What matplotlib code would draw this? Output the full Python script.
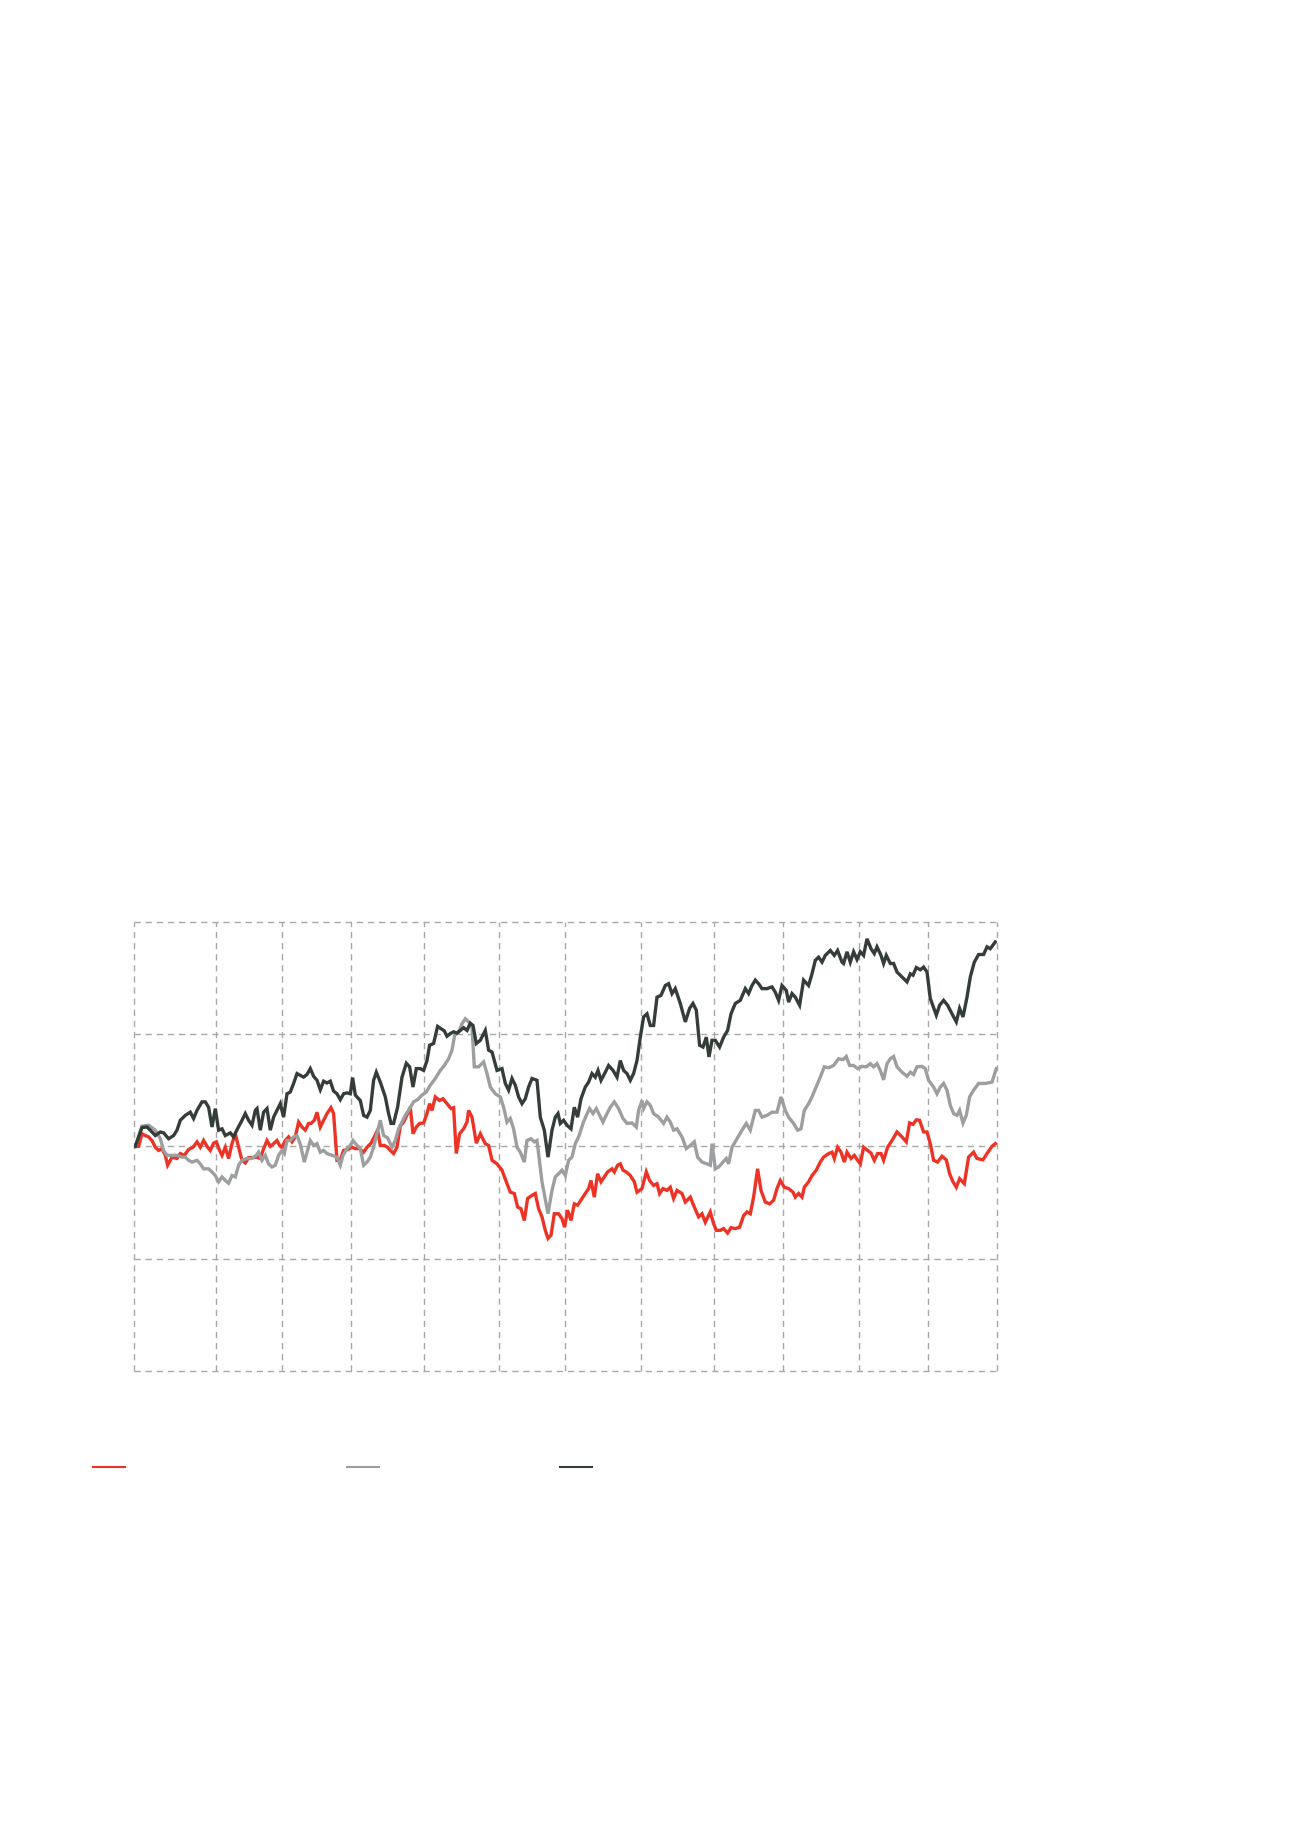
import matplotlib
matplotlib.use("Agg")
import matplotlib.pyplot as plt
from matplotlib.lines import Line2D

# ---- data (index, start = 100) ----
# time axis unit: trading-time units from the start of the period
period_ticks = [0, 82, 148, 217, 289.4, 365, 431, 506.7, 579.4, 648.4, 724.7, 793.4, 862.4]
value_ticks = [50, 75, 100, 125, 150]

dark_t = [1, 7.7, 12.7, 16, 21, 26, 29.3, 34.3, 39.3, 42.7, 46, 51, 56, 59.3, 62.7, 67.7, 71, 74.3, 77.7, 81,
          84.3, 87.7, 91, 96, 99.3, 102.7, 107.7, 111, 114.3, 117.7, 121, 122.7, 126, 129.3, 132.7, 136, 139.3,
          142.7, 146, 149.3, 152.7, 156, 159.3, 162.7, 166, 169.3, 172.7, 176, 179.3, 182.7, 186, 189.3, 192.7,
          196, 199.3, 202.7, 206, 209.3, 212.7, 216, 218.3, 221, 226, 229.3, 232.7, 236, 239.3, 242, 246, 251,
          254.3, 256.7, 259.3, 263.3, 267.7, 272, 275.3, 278.7, 282, 286, 289.3, 292.7, 295.3, 299.3, 303.3,
          306.7, 310, 312.7, 316, 319.3, 322.7, 326, 329.3, 332.7, 336, 338.7, 342, 346, 351, 354.3, 357.7,
          362.7, 367.7, 371, 374.3, 377.7, 381, 384.3, 387.7, 391, 394.3, 397.7, 402.7, 406, 410, 413.7, 417.7,
          421, 423.7, 426, 429.3, 432.7, 436.7, 440, 443.3, 446.7, 451, 454.3, 457.7, 461, 463.7, 466.7, 471,
          474.3, 478.7, 482.7, 486, 489.3, 492.7, 496, 499.3, 502.7, 506, 509.3, 512.7, 516, 519.3, 522.7, 526.7,
          531, 534.3, 537.7, 541, 546, 551, 555.3, 558.7, 562, 565.3, 568.7, 572, 574.7, 577.7, 581, 585.3,
          589.3, 593.3, 596.7, 601, 606, 611, 614.3, 617.7, 621, 624.3, 627.7, 632.7, 637.7, 641, 644.3, 647.7,
          652, 654.3, 657.7, 661, 665.3, 669.3, 674.3, 677.7, 681, 684.3, 687.7, 691, 696, 700, 703.3, 707.7,
          709.3, 712.7, 716, 719.3, 722.7, 726, 729.3, 732.7, 736.7, 740, 742.7, 746.7, 749.3, 752, 756, 759.3,
          762.7, 767.7, 772.7, 776, 778.7, 782, 786, 789.3, 792.7, 796, 802, 805.3, 809.3, 813.3, 817.7, 822,
          825.3, 828.7, 832.7, 836, 840, 844.3, 849.3, 852.7, 856, 861]
dark_v = [100.0, 104.2, 104.3, 103.6, 102.4, 103.2, 103.0, 101.7, 102.4, 103.6, 105.8, 106.9, 107.6, 106.2, 108.0,
          109.9, 109.9, 108.7, 104.3, 108.4, 103.6, 103.9, 102.4, 103.0, 102.1, 103.7, 105.8, 107.3, 105.8, 104.7,
          108.0, 108.4, 103.6, 107.6, 108.4, 103.6, 106.5, 108.0, 109.5, 106.5, 111.7, 112.1, 114.0, 116.2, 115.8,
          115.4, 116.0, 117.3, 115.6, 114.7, 112.6, 114.5, 114.1, 114.5, 112.3, 111.7, 110.4, 111.7, 111.9, 111.7,
          115.3, 111.4, 110.2, 106.9, 106.5, 108.0, 114.7, 116.5, 114.3, 111.0, 107.3, 105.1, 105.1, 108.7, 115.4,
          118.5, 117.7, 113.2, 117.3, 117.3, 116.9, 119.1, 122.5, 122.9, 126.7, 126.2, 125.7, 124.5, 125.1, 125.5,
          125.2, 125.8, 126.4, 125.8, 127.4, 126.9, 122.9, 123.6, 125.8, 121.4, 121.0, 116.9, 117.3, 114.0, 112.5,
          115.1, 113.6, 111.0, 109.5, 110.6, 113.2, 115.1, 114.7, 106.5, 103.6, 97.6, 103.6, 106.5, 107.3, 105.1,
          105.8, 104.7, 103.9, 108.7, 106.5, 110.6, 113.2, 114.3, 116.2, 115.4, 116.9, 114.7, 116.5, 118.0, 116.9,
          115.4, 119.1, 116.9, 116.2, 114.7, 116.2, 119.1, 124.3, 128.8, 129.5, 126.9, 126.9, 133.2, 133.6, 135.8,
          136.2, 134.0, 135.1, 131.8, 127.7, 130.7, 131.8, 130.3, 122.5, 122.1, 124.3, 119.9, 123.6, 123.6, 122.1,
          124.3, 125.8, 129.5, 131.8, 132.5, 135.1, 134.0, 135.8, 137.0, 136.2, 135.1, 135.1, 135.5, 134.3, 132.5,
          135.8, 134.7, 132.1, 134.0, 133.2, 131.4, 137.0, 135.8, 138.4, 141.4, 142.1, 141.0, 142.5, 143.6, 142.5,
          143.6, 141.0, 140.7, 143.3, 141.0, 143.3, 141.6, 143.3, 142.5, 146.2, 144.0, 142.9, 144.4, 142.5, 140.7,
          142.5, 140.7, 140.7, 138.8, 137.7, 136.6, 138.4, 138.1, 139.8, 139.3, 139.9, 138.8, 132.9, 129.2, 131.4,
          132.5, 131.4, 129.5, 127.7, 130.7, 128.8, 133.2, 137.7, 141.0, 142.7, 142.7, 144.4, 144.0, 145.5]

grey_t = [1, 7.7, 14.3, 21, 26, 29.3, 32.7, 37.7, 42.7, 47.7, 51, 54.3, 57.7, 62.7, 66, 69.3, 74.3, 77.7, 81, 84.3,
          87.7, 91, 94.3, 97.7, 101, 104.3, 107.7, 112.7, 117.7, 122, 124.3, 127.7, 131, 134.3, 137.7, 141, 144.3,
          147.7, 150, 152.7, 156, 159.3, 162.7, 166, 170, 173.3, 176, 179.3, 182.7, 186, 189.3, 192.7, 197.7,
          202.7, 206, 208.7, 212.7, 216, 218.7, 222, 226, 229.3, 232.7, 236, 239.3, 242.7, 246, 249.3, 253.3,
          257.7, 261, 264.3, 267.7, 271, 274.3, 279.3, 283.3, 287.7, 292, 296, 301, 306, 310, 314.3, 317.7, 320.3,
          324.3, 327.7, 331, 334.3, 337.7, 340, 344.3, 349.3, 352.7, 356, 361, 366, 369.3, 372.7, 376, 379.3,
          382.7, 386, 390, 392.7, 396.7, 400, 402.7, 407.7, 413.7, 417.7, 421, 424.3, 427.7, 431, 434.3, 437.7,
          441, 444.3, 448.7, 452, 455.3, 458.7, 462, 465.3, 468.7, 472.7, 476, 480, 484.3, 488.7, 492.7, 497.7,
          502, 504.3, 507.7, 509.3, 512.7, 516, 519.3, 524.3, 529.3, 532.7, 536, 539.3, 542.7, 547.7, 552, 556,
          560, 563.3, 567.7, 572.7, 576, 577.7, 581, 584.3, 588.7, 592, 594.3, 597.7, 602.7, 607.7, 612, 616, 621,
          624.3, 627.7, 632.7, 637.7, 642.7, 646.7, 651, 654.3, 659.3, 663.3, 666.7, 670, 674.3, 677.7, 681, 686,
          690, 694.3, 699.3, 704.3, 708.7, 712, 715.3, 719.3, 723.3, 727.7, 732, 736, 739.3, 742.7, 746, 749.3,
          752.7, 756, 759.3, 762.7, 767.7, 772.7, 776, 779.3, 782.7, 787.7, 791, 794.3, 799.3, 802.7, 806, 809.3,
          812.7, 816, 819.3, 822.7, 825.3, 828.7, 832, 835.3, 839.3, 844.3, 851, 857.7, 862]
grey_v = [100.0, 104.5, 104.7, 103.6, 101.7, 99.1, 98.0, 98.0, 98.0, 97.6, 97.6, 96.9, 96.5, 96.9, 96.1, 95.0,
          95.0, 94.3, 93.5, 92.1, 93.2, 92.4, 91.8, 93.5, 93.2, 95.8, 96.9, 97.3, 97.3, 98.0, 98.7, 96.9, 98.0,
          96.1, 95.4, 95.8, 98.0, 99.1, 98.4, 101.3, 101.3, 102.1, 102.4, 100.5, 96.5, 99.1, 101.3, 100.2, 100.6,
          98.7, 99.1, 98.4, 98.0, 97.6, 95.8, 98.0, 99.5, 100.2, 101.3, 100.4, 99.5, 95.8, 96.5, 97.6, 99.8,
          102.8, 105.8, 102.4, 101.9, 99.8, 101.3, 103.9, 105.4, 106.9, 108.0, 109.9, 110.4, 111.4, 112.1, 113.6,
          115.1, 116.9, 118.0, 119.5, 121.4, 124.7, 125.4, 127.3, 128.4, 127.7, 126.6, 117.7, 117.7, 118.8,
          116.2, 113.2, 111.7, 111.0, 108.7, 105.4, 106.2, 103.9, 99.8, 98.7, 96.5, 101.3, 101.7, 101.0, 101.3,
          92.1, 85.0, 90.2, 93.2, 93.9, 94.7, 93.5, 96.9, 97.6, 100.6, 102.1, 105.1, 106.9, 108.4, 107.3, 108.4,
          106.9, 105.4, 107.3, 108.7, 109.9, 108.4, 106.2, 105.1, 105.2, 104.3, 108.0, 110.2, 108.4, 109.9, 109.1,
          107.3, 106.5, 105.1, 106.5, 105.4, 103.6, 103.9, 102.1, 99.5, 100.2, 101.0, 97.6, 96.5, 96.1, 95.8,
          100.6, 95.0, 95.4, 96.5, 97.3, 96.1, 99.8, 101.7, 103.6, 105.1, 103.6, 108.0, 108.0, 106.5, 106.9,
          107.6, 107.6, 111.0, 108.0, 106.5, 105.1, 103.6, 103.9, 108.0, 109.5, 111.0, 112.8, 115.4, 117.7,
          117.5, 118.0, 119.5, 119.3, 120.0, 118.0, 118.0, 117.3, 117.8, 117.7, 118.4, 117.7, 118.4, 116.9,
          114.8, 118.4, 119.5, 120.0, 117.7, 116.5, 115.6, 116.5, 116.0, 117.7, 117.8, 117.3, 114.7, 113.2,
          111.7, 113.2, 114.0, 112.5, 109.1, 107.3, 106.9, 108.0, 105.2, 106.9, 111.0, 112.5, 114.0, 114.0,
          114.3, 117.3]

red_t = [1, 4.3, 7.7, 11, 14.3, 17.7, 21, 24.3, 27.7, 31, 33.3, 37.7, 42.7, 46, 50, 54.3, 58.7, 62.7, 66, 69.3,
         73.3, 76, 79.3, 82, 85.3, 87.7, 91, 94.3, 97.7, 101, 104.3, 107.7, 111, 114.3, 118.7, 122.7, 126, 128.7,
         132.7, 136, 139.3, 142.7, 145.3, 147.7, 151, 154.3, 157.7, 161, 164.3, 167.7, 171, 174.3, 176.7, 180,
         182.7, 186, 189.3, 192.7, 196.7, 199.3, 202.7, 206, 209.3, 213.3, 217.7, 221, 225.3, 229.3, 232.7, 236.7,
         240, 243.3, 246, 250, 253.3, 256, 259.3, 262.7, 266, 269.3, 273.3, 276, 278.7, 282, 285.3, 289.3, 292.7,
         295.3, 297.7, 301, 305.3, 308.7, 312.7, 316.7, 319.3, 322, 325.3, 329.3, 332.7, 334.3, 337.7, 342, 346,
         351, 354.3, 357.7, 362.7, 367.7, 372, 376, 380, 383.3, 386.7, 390, 393.3, 397.7, 401, 404.3, 407.7, 411,
         413.7, 416.7, 420, 424.3, 427.7, 430.3, 433.3, 436.7, 440, 443.3, 447.7, 451, 454.3, 456.7, 460, 463.3,
         466.7, 470, 473.3, 477.7, 480, 483.3, 486, 488.7, 492, 496, 500, 502.7, 507.7, 512, 515.3, 519.3, 522.7,
         525.3, 528.7, 532.7, 536, 539.3, 542.7, 547.7, 551, 556, 560, 564.3, 567.7, 571, 576, 579.3, 582, 586,
         589.3, 593.3, 596.7, 601, 605.3, 609.3, 612.7, 616, 619.3, 623.3, 626.7, 631, 635.3, 639.3, 642.7, 646,
         650, 654.3, 658.7, 661, 664.3, 667.7, 670, 674.3, 677.7, 682, 686, 689.3, 694.3, 697.7, 700, 703.3,
         706.7, 710, 712.7, 716.7, 720, 723.3, 726, 729.3, 733.3, 736.7, 740, 743.3, 746.7, 749.3, 753.3, 757.7,
         762.7, 767.7, 772, 775.3, 778.7, 782, 785.3, 789.3, 792.7, 796, 799.3, 803.3, 807.7, 812, 815.3, 818.7,
         822, 825.3, 830, 834.3, 839.3, 842.7, 848.7, 852.7, 857.7, 861]
red_v = [100.0, 100.0, 102.8, 102.4, 102.1, 101.3, 99.8, 99.1, 99.5, 98.0, 95.8, 97.6, 97.3, 98.4, 98.0, 99.3, 99.8,
         101.0, 99.8, 101.3, 99.8, 99.1, 100.7, 101.0, 99.1, 98.0, 99.8, 97.3, 100.6, 102.8, 99.8, 96.9, 96.3,
         97.5, 97.5, 97.6, 97.3, 99.1, 101.3, 100.0, 100.6, 101.3, 100.2, 99.7, 101.3, 102.1, 101.0, 102.1, 105.4,
         104.3, 103.6, 105.1, 105.1, 105.8, 107.6, 104.3, 105.8, 107.3, 108.6, 107.3, 96.9, 97.0, 99.1, 99.3,
         99.8, 99.5, 99.5, 98.7, 99.8, 100.7, 102.1, 103.6, 100.2, 100.2, 99.8, 99.1, 98.4, 99.8, 104.5, 105.4,
         107.3, 108.7, 102.8, 104.3, 105.1, 105.2, 107.3, 109.5, 108.0, 111.0, 110.2, 110.6, 109.5, 108.4, 108.6,
         98.4, 102.8, 103.9, 105.4, 108.0, 106.5, 100.7, 102.8, 100.6, 100.2, 96.9, 96.1, 94.7, 92.1, 89.8, 89.5,
         86.5, 86.1, 83.5, 88.4, 89.1, 89.5, 86.1, 84.3, 81.3, 79.5, 80.2, 85.0, 85.0, 83.9, 82.0, 85.8, 83.5,
         87.2, 86.9, 88.4, 89.5, 90.6, 92.4, 88.7, 93.9, 92.1, 93.2, 94.3, 95.0, 94.3, 95.8, 96.1, 94.7, 94.3,
         93.5, 92.1, 89.8, 90.6, 94.3, 92.4, 91.3, 91.7, 89.5, 90.6, 90.2, 90.9, 88.4, 90.2, 89.5, 87.6, 88.7,
         86.5, 84.3, 85.0, 83.1, 85.4, 82.8, 81.3, 81.3, 81.7, 80.7, 81.9, 81.7, 82.0, 84.6, 85.4, 85.0, 88.7,
         95.0, 90.2, 87.6, 87.2, 88.0, 90.6, 92.4, 90.9, 90.6, 89.8, 88.7, 89.5, 88.7, 90.9, 92.1, 93.5, 94.7,
         96.5, 97.6, 98.4, 98.7, 97.3, 99.8, 98.7, 96.5, 98.7, 97.3, 98.0, 96.9, 96.1, 99.8, 99.1, 98.5, 96.9,
         98.4, 98.4, 96.9, 99.8, 101.3, 103.2, 102.1, 101.0, 105.2, 104.9, 105.9, 105.8, 103.2, 103.2, 100.6,
         96.9, 96.5, 97.8, 97.0, 93.9, 92.1, 90.9, 92.8, 91.7, 97.6, 98.7, 97.3, 97.0, 98.4, 100.0, 100.6]

series = [
    ("red", red_t, red_v, "#ec3326"),
    ("grey", grey_t, grey_v, "#9c9e9f"),
    ("dark", dark_t, dark_v, "#353d39"),
]

# ---- figure ----
W, H = 1300, 1839
fig = plt.figure(figsize=(W / 100, H / 100), dpi=100)
fig.patch.set_facecolor("white")

left, right = 134.3 / W, 996.7 / W
top, bottom = 1 - 921.7 / H, 1 - 1371.0 / H
ax = fig.add_axes([left, bottom, right - left, top - bottom])

grid_kw = dict(color="#a8a8a8", linewidth=1.0, linestyle=(0, (4.5, 3.5)), zorder=1, clip_on=False)
for xv in period_ticks:
    ax.axvline(xv, **grid_kw)
for yv in value_ticks:
    ax.axhline(yv, **grid_kw)

for name, t, v, c in series:
    ax.plot(t, v, color=c, linewidth=2.4, solid_joinstyle="miter", zorder=3)

ax.set_xlim(period_ticks[0], period_ticks[-1])
ax.set_ylim(value_ticks[0], value_ticks[-1])
for s in ax.spines.values():
    s.set_visible(False)
ax.set_xticks([])
ax.set_yticks([])

# legend swatches (no text in the reference)
leg_y = 1 - 1467.3 / H
for (x0, x1), (_, _, _, c) in zip([(93.3, 125.0), (347.3, 379.0), (560.0, 591.7)], series):
    fig.add_artist(Line2D([x0 / W, x1 / W], [leg_y, leg_y], transform=fig.transFigure,
                          color=c, linewidth=1.5))

fig.savefig("out.png", dpi=100, facecolor="white")
